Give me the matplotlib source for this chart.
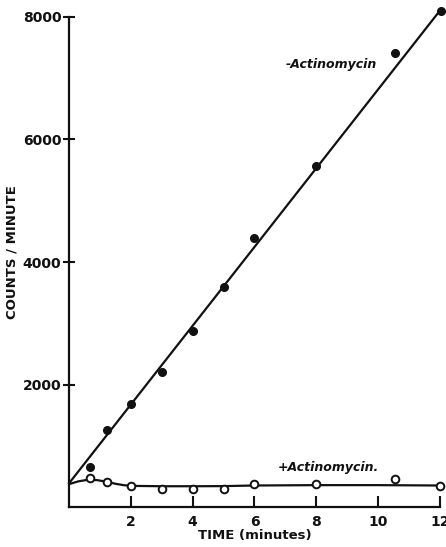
import matplotlib
matplotlib.use("Agg")
import matplotlib.pyplot as plt

# -Actinomycin (filled circles)
T_MINUS = [0.67, 1.22, 2.0, 3.0, 4.0, 5.0, 6.0, 8.0, 10.55, 12.03]
CPM_MINUS = [660, 1260, 1690, 2210, 2870, 3590, 4400, 5570, 7410, 8100]
# fitted straight line
FIT_T = [0.0, 12.0]
FIT_CPM = [390, 8100]

# +Actinomycin (open circles)
T_PLUS = [0.67, 1.21, 2.0, 3.0, 4.0, 5.0, 6.0, 8.0, 10.55, 12.0]
CPM_PLUS = [470, 415, 340, 295, 300, 295, 370, 370, 455, 345]
# hand-drawn smooth curve through them
CURVE_T = [0.0, 0.3, 0.6, 0.9, 1.2, 1.5, 1.8, 2.2, 3.0, 4.0, 5.0, 6.0, 8.0, 10.0, 12.0]
CURVE_CPM = [375, 420, 445, 440, 415, 380, 355, 345, 340, 340, 342, 352, 358, 358, 352]

XTICKS = [2, 4, 6, 8, 10, 12]
YTICKS = [2000, 4000, 6000, 8000]

INK = "#111111"


def main():
    fig = plt.figure(figsize=(4.46, 5.47), dpi=100)
    fig.patch.set_facecolor("white")
    ax = fig.add_axes([0.155, 0.073, 0.831, 0.896])

    ax.plot(FIT_T, FIT_CPM, color=INK, lw=1.6, clip_on=False, zorder=2)
    ax.plot(T_MINUS, CPM_MINUS, "o", color=INK, ms=5.5, clip_on=False, zorder=3)

    ax.plot(CURVE_T, CURVE_CPM, color=INK, lw=1.6, clip_on=False, zorder=2)
    ax.plot(T_PLUS, CPM_PLUS, "o", mfc="white", mec=INK, mew=1.4, ms=5.5,
            clip_on=False, zorder=3)

    ax.text(7.0, 7230, "-Actinomycin", fontsize=9, fontstyle="italic",
            fontweight="bold", color=INK, ha="left", va="center")
    ax.text(6.75, 640, "+Actinomycin.", fontsize=9, fontstyle="italic",
            fontweight="bold", color=INK, ha="left", va="center")

    ax.set_xlim(0, 12)
    ax.set_ylim(0, 8000)
    ax.set_xticks(XTICKS)
    ax.set_yticks(YTICKS)
    ax.set_xticklabels([str(t) for t in XTICKS], fontsize=10, fontweight="bold")
    ax.set_yticklabels([str(t) for t in YTICKS], fontsize=10, fontweight="bold")
    ax.tick_params(axis="x", direction="in", length=8, width=1.5, pad=6, colors=INK)
    ax.tick_params(axis="y", direction="inout", length=9, width=1.5, pad=1, colors=INK)

    ax.set_xlabel("TIME (minutes)", fontsize=9.5, fontweight="bold", color=INK,
                  labelpad=0)
    ax.set_ylabel("COUNTS / MINUTE", fontsize=9.5, fontweight="bold", color=INK)
    ax.yaxis.set_label_coords(-0.137, 0.52)

    for side in ("top", "right"):
        ax.spines[side].set_visible(False)
    for side in ("left", "bottom"):
        ax.spines[side].set_linewidth(1.6)
        ax.spines[side].set_color(INK)

    fig.savefig("out.png", dpi=100, facecolor="white")


if __name__ == "__main__":
    main()
